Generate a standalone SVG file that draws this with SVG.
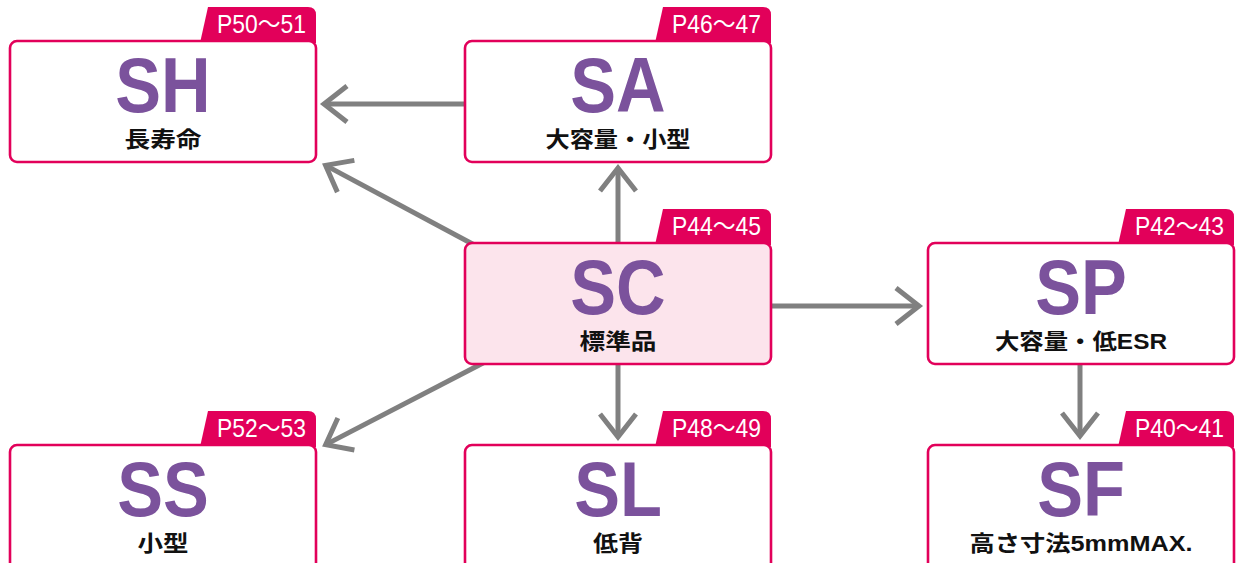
<svg xmlns="http://www.w3.org/2000/svg" width="1237" height="563" viewBox="0 0 1237 563">
<style>
.box{fill:#fff;stroke:#e2005a;stroke-width:2.6}
.boxc{fill:#fce4ec;stroke:#e2005a;stroke-width:2.6}
.tab{fill:#e2005a}
.tabt{fill:#fff;font-family:"Liberation Sans","Noto Sans CJK JP",sans-serif;font-size:25px}
.big{fill:#7b529c;font-family:"Liberation Sans",Arial,sans-serif;font-weight:bold;font-size:78px;text-anchor:middle}
.sub{fill:#111;font-family:"Liberation Sans","Noto Sans CJK JP",sans-serif;font-weight:bold;font-size:22px;text-anchor:middle}
.con{fill:none;stroke:#808080;stroke-width:5}
</style>
<defs>
<marker id="ah" markerUnits="userSpaceOnUse" viewBox="-30 -25 40 50" markerWidth="40" markerHeight="50" refX="0" refY="0" orient="auto">
<path d="M-23,-18 L0,0 L-23,18" fill="none" stroke="#808080" stroke-width="5"/>
</marker>
</defs>
<g id="connectors">
<path class="con" d="M465,104 L324,104" marker-end="url(#ah)"/>
<path class="con" d="M480,248 L325.6,165.4" marker-end="url(#ah)"/>
<path class="con" d="M618,250 L618,168" marker-end="url(#ah)"/>
<path class="con" d="M771,306 L919,306" marker-end="url(#ah)"/>
<path class="con" d="M485,362 L325.7,444.6" marker-end="url(#ah)"/>
<path class="con" d="M618,365 L618,437" marker-end="url(#ah)"/>
<path class="con" d="M1080,364 L1080,436" marker-end="url(#ah)"/>
</g>
<g id="SH">
<path class="tab" d="M200,43 L208,7 L308,7 Q316,7 316,15 L316,43 Z"/>
<rect class="box" x="10" y="41" width="306" height="121" rx="7"/>
<text class="tabt" x="306" y="33" text-anchor="end" textLength="89" lengthAdjust="spacingAndGlyphs">P50～51</text>
<text class="big" transform="translate(163,112) scale(0.88,1)">SH</text>
<text class="sub" x="163" y="147" textLength="77" lengthAdjust="spacingAndGlyphs">長寿命</text>
</g>
<g id="SA">
<path class="tab" d="M655,43 L663,7 L763,7 Q771,7 771,15 L771,43 Z"/>
<rect class="box" x="465" y="41" width="306" height="121" rx="7"/>
<text class="tabt" x="761" y="33" text-anchor="end" textLength="89" lengthAdjust="spacingAndGlyphs">P46～47</text>
<text class="big" transform="translate(618,112) scale(0.88,1)">SA</text>
<text class="sub" x="618" y="147" textLength="145" lengthAdjust="spacingAndGlyphs">大容量・小型</text>
</g>
<g id="SC">
<path class="tab" d="M655,245 L663,209 L763,209 Q771,209 771,217 L771,245 Z"/>
<rect class="boxc" x="465" y="243" width="306" height="121" rx="7"/>
<text class="tabt" x="761" y="235" text-anchor="end" textLength="89" lengthAdjust="spacingAndGlyphs">P44～45</text>
<text class="big" transform="translate(618,314) scale(0.88,1)">SC</text>
<text class="sub" x="618" y="349" textLength="77" lengthAdjust="spacingAndGlyphs">標準品</text>
</g>
<g id="SP">
<path class="tab" d="M1118,245 L1126,209 L1226,209 Q1234,209 1234,217 L1234,245 Z"/>
<rect class="box" x="928" y="243" width="306" height="121" rx="7"/>
<text class="tabt" x="1224" y="235" text-anchor="end" textLength="89" lengthAdjust="spacingAndGlyphs">P42～43</text>
<text class="big" transform="translate(1081,314) scale(0.88,1)">SP</text>
<text class="sub" x="1081" y="349" textLength="172" lengthAdjust="spacingAndGlyphs">大容量・低ESR</text>
</g>
<g id="SS">
<path class="tab" d="M200,447 L208,411 L308,411 Q316,411 316,419 L316,447 Z"/>
<rect class="box" x="10" y="445" width="306" height="140" rx="7"/>
<text class="tabt" x="306" y="437" text-anchor="end" textLength="89" lengthAdjust="spacingAndGlyphs">P52～53</text>
<text class="big" transform="translate(163,516) scale(0.88,1)">SS</text>
<text class="sub" x="163" y="551" textLength="51" lengthAdjust="spacingAndGlyphs">小型</text>
</g>
<g id="SL">
<path class="tab" d="M655,447 L663,411 L763,411 Q771,411 771,419 L771,447 Z"/>
<rect class="box" x="465" y="445" width="306" height="140" rx="7"/>
<text class="tabt" x="761" y="437" text-anchor="end" textLength="89" lengthAdjust="spacingAndGlyphs">P48～49</text>
<text class="big" transform="translate(618,516) scale(0.88,1)">SL</text>
<text class="sub" x="618" y="551" textLength="50" lengthAdjust="spacingAndGlyphs">低背</text>
</g>
<g id="SF">
<path class="tab" d="M1118,447 L1126,411 L1226,411 Q1234,411 1234,419 L1234,447 Z"/>
<rect class="box" x="928" y="445" width="306" height="140" rx="7"/>
<text class="tabt" x="1224" y="437" text-anchor="end" textLength="89" lengthAdjust="spacingAndGlyphs">P40～41</text>
<text class="big" transform="translate(1081,516) scale(0.88,1)">SF</text>
<text class="sub" x="1081" y="551" textLength="223" lengthAdjust="spacingAndGlyphs">高さ寸法5mmMAX.</text>
</g>
</svg>
